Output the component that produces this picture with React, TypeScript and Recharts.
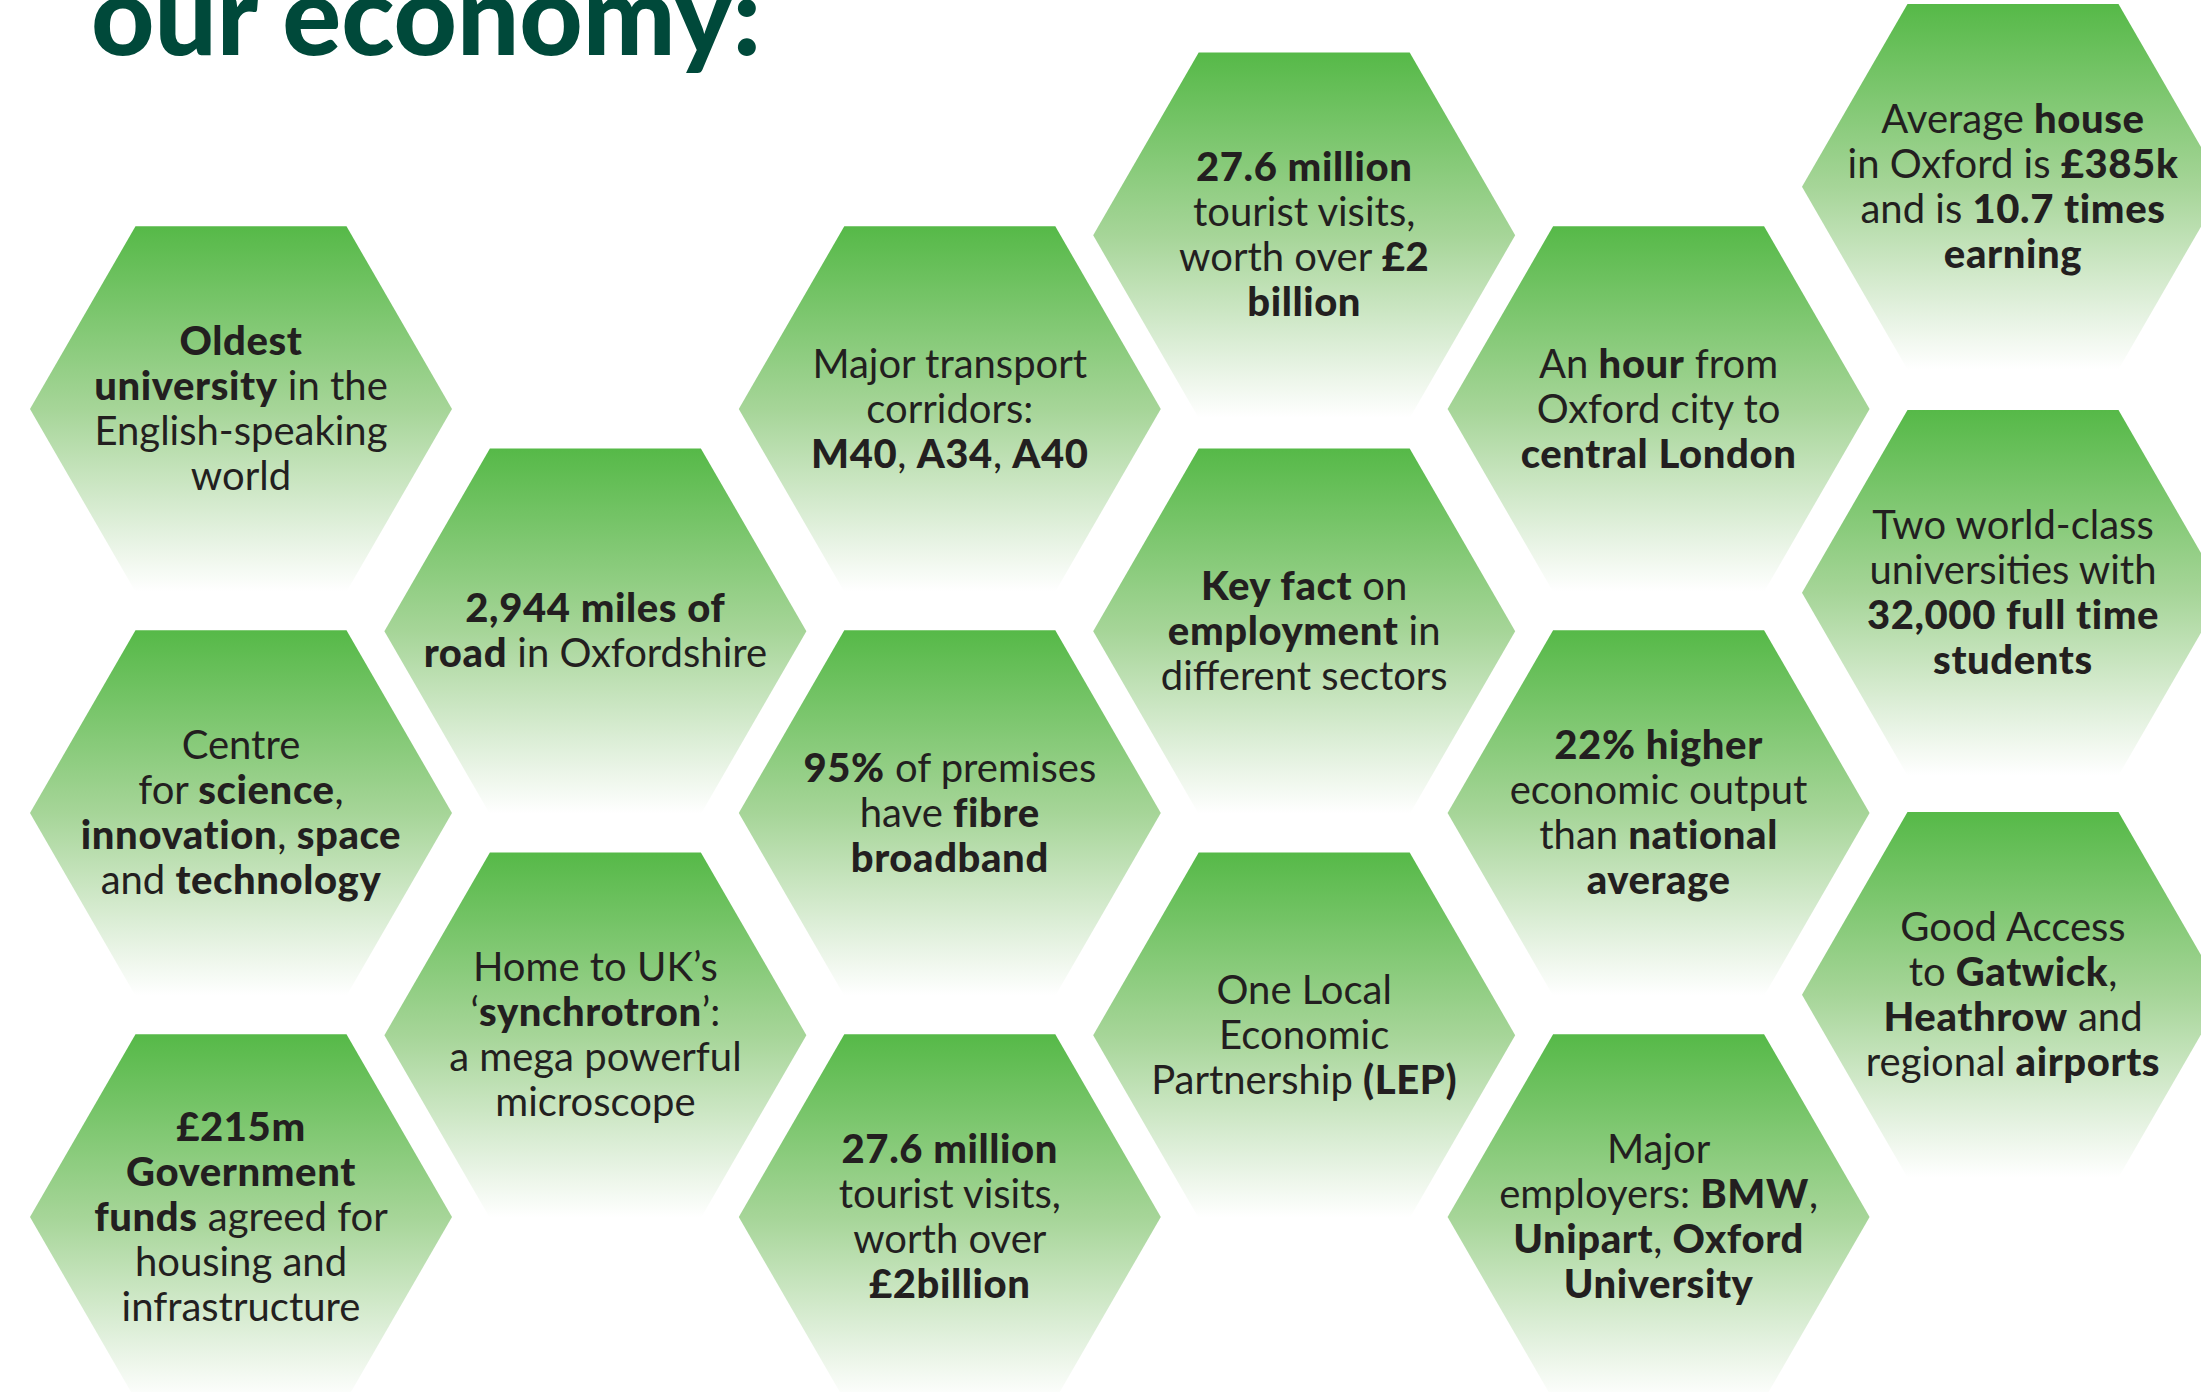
import { ScatterChart, Scatter, XAxis, YAxis } from "recharts";

// ── Data ─────────────────────────────────────────────────────────────
// column index and row level of each hexagon (row levels)
const hexCol = [0, 0, 0, 1, 1, 2, 2, 2, 3, 3, 3, 4, 4, 4, 5, 5, 5];
const hexRow = [0, 1, 2, 0.55, 1.55, 0, 1, 2, -0.43, 0.55, 1.55, 0, 1, 2, -0.55, 0.455, 1.45];

// "|" breaks a line, **...** marks bold
const hexLabels = [
  "**Oldest**|**university** in the|English-speaking|world",
  "Centre|for **science**,|**innovation**, **space**|and **technology**",
  "**£215m**|**Government**|**funds** agreed for|housing and|infrastructure",
  "**2,944 miles of**|**road** in Oxfordshire",
  "Home to UK’s|‘**synchrotron**’:|a mega powerful|microscope",
  "Major transport|corridors:|**M40**, **A34**, **A40**",
  "**95%** of premises|have **fibre**|**broadband**",
  "**27.6 million**|tourist visits,|worth over|**£2billion**",
  "**27.6 million**|tourist visits,|worth over **£2**|**billion**",
  "**Key fact** on|**employment** in|different sectors",
  "One Local|Economic|Partnership **(LEP)**",
  "An **hour** from|Oxford city to|**central London**",
  "**22% higher**|economic output|than **national**|**average**",
  "Major|employers: **BMW**,|**Unipart**, **Oxford**|**University**",
  "Average **house**|in Oxford is **£385k**|and is **10.7 times**|**earning**",
  "Two world-class|universities with|**32,000 full time**|**students**",
  "Good Access|to **Gatwick**,|**Heathrow** and|regional **airports**",
];

const title = "our economy:";

const hexData = hexCol.map((c, i) => ({ x: c, y: hexRow[i], label: hexLabels[i], id: i }));

// ── Styles ───────────────────────────────────────────────────────────
const W = 2201;
const H = 1392;
const R = 211;
const FONT = "Lato, 'Noto Sans', sans-serif";
const FONT_SIZE = 40;
const LINE_H = 45;
const TEXT_COLOR = "#231f20";

function parseLine(line: string) {
  return line.split("**").map((t, i) => ({ text: t, bold: i % 2 === 1 })).filter((s) => s.text);
}

// ── Hexagon shape ────────────────────────────────────────────────────
function HexShape(props: any) {
  const { cx, cy, payload } = props;
  const h = (R * Math.sqrt(3)) / 2;
  const pts = [
    [cx + R, cy],
    [cx + R / 2, cy + h],
    [cx - R / 2, cy + h],
    [cx - R, cy],
    [cx - R / 2, cy - h],
    [cx + R / 2, cy - h],
  ]
    .map((p) => p.join(","))
    .join(" ");
  const lines: string[] = payload.label.split("|");
  const n = lines.length;
  const gid = `hexGrad${payload.id}`;

  return (
    <g>
      <defs>
        <linearGradient id={gid} x1="0" y1="0" x2="0" y2="1">
          <stop offset="0%" stopColor="#56b948" />
          <stop offset="50%" stopColor="#a6d598" />
          <stop offset="85%" stopColor="#e5f2e1" />
          <stop offset="100%" stopColor="#ffffff" />
        </linearGradient>
      </defs>
      <polygon points={pts} fill={`url(#${gid})`} />
      <text textAnchor="middle" fontFamily={FONT} fontSize={FONT_SIZE} fill={TEXT_COLOR}>
        {lines.map((line, i) => (
          <tspan key={i} x={cx} y={cy + (i - (n - 1) / 2) * LINE_H + FONT_SIZE * 0.34}>
            {parseLine(line).map((s, j) => (
              <tspan
                key={j}
                fontWeight={s.bold ? 900 : 400}
                letterSpacing={s.bold ? 0.6 : 0}
              >
                {s.text}
              </tspan>
            ))}
          </tspan>
        ))}
      </text>
    </g>
  );
}

// ── Component ────────────────────────────────────────────────────────
export default function App() {
  return (
    <div
      style={{
        position: "absolute",
        left: 0,
        top: 0,
        width: W,
        height: H,
        background: "#ffffff",
        overflow: "hidden",
      }}
    >
      <ScatterChart width={W} height={H} margin={{ top: 0, right: 0, bottom: 0, left: 0 }}>
        <XAxis type="number" dataKey="x" domain={[-0.68, 5.5305]} allowDataOverflow hide />
        <YAxis type="number" dataKey="y" domain={[-1.0124, 2.4332]} allowDataOverflow reversed hide />
        <Scatter data={hexData} shape={HexShape} isAnimationActive={false} />
      </ScatterChart>
      <svg
        width={W}
        height={H}
        style={{ position: "absolute", left: 0, top: 0, pointerEvents: "none" }}
      >
        <text x={91} y={55} fontFamily={FONT} fontSize={110} fontWeight={900} fill="#00493a">
          {title}
        </text>
      </svg>
    </div>
  );
}
